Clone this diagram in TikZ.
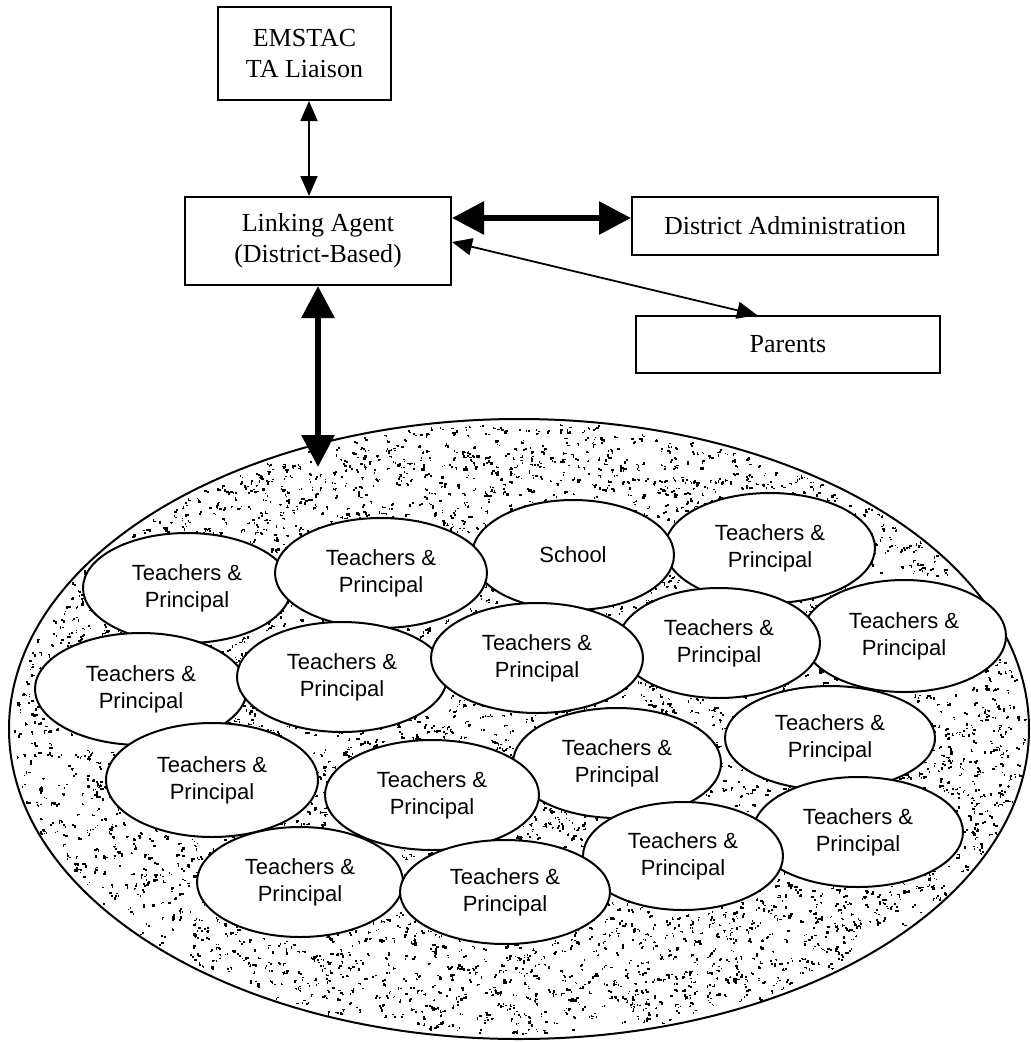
\documentclass[tikz,border=0pt]{standalone}
\usepackage{fontspec}
\setmainfont{Liberation Serif}
\newfontfamily\sansf{Liberation Sans}
\usetikzlibrary{shapes.geometric,arrows.meta}

\tikzset{
  box/.style={draw, line width=2pt, rectangle, inner sep=0pt, align=center,
    font=\fontsize{26}{31}\selectfont},
  tp/.style={draw, fill=white, ellipse, line width=2pt, inner sep=0pt, align=center,
    font=\sansf\fontsize{22}{27}\selectfont},
  thinlink/.style={line width=1.8pt,
    {Triangle[length=20pt,width=17pt]}-{Triangle[length=20pt,width=17pt]}},
  thicklink/.style={line width=6pt,
    {Triangle[length=32pt,width=32pt]}-{Triangle[length=32pt,width=32pt]}},
}

\begin{document}
\begin{tikzpicture}[x=1pt, y=-1pt]
\useasboundingbox (0,0) rectangle (1031,1042);

% top boxes
\node[box, minimum width=173pt, minimum height=93pt] (emstac) at (304.5,53.5) {EMSTAC\\TA Liaison};
\node[box, minimum width=266pt, minimum height=88pt] (link) at (318,241) {Linking Agent\\(District-Based)};
\node[box, minimum width=306pt, minimum height=58pt] (admin) at (785,226) {District Administration};
\node[box, minimum width=304pt, minimum height=57pt] (parents) at (788,344.5) {Parents};

% district: stippled ellipse holding the schools
\node[ellipse, minimum width=1020pt, minimum height=620pt, inner sep=0pt] (district) at (519,729) {};
\begin{scope}
  \pgfmathsetseed{2718}
  \foreach \i in {1,...,6000}{
    \pgfmathsetmacro\rr{sqrt(rnd)}
    \pgfmathsetmacro\aa{360*rnd}
    \pgfmathsetmacro\px{519+506*\rr*cos(\aa)}
    \pgfmathsetmacro\py{729+306*\rr*sin(\aa)}
    \pgfmathsetmacro\ww{1.0+1.8*rnd}
    \pgfmathsetmacro\hh{1.0+1.6*rnd}
    \pgfmathsetmacro\dx{5*rnd-2.5}
    \pgfmathsetmacro\dy{5*rnd-2.5}
    \fill (\px,\py) rectangle ++(\ww,\hh);
    \fill (\px+\dx,\py+\dy) rectangle ++(\hh,\ww);
  }
\end{scope}
\draw[line width=2pt] (519,729) ellipse [x radius=510, y radius=310];

% schools
\node[tp, minimum width=208pt, minimum height=110pt] (s1)  at (187,588) {Teachers \&\\Principal};
\node[tp, minimum width=210pt, minimum height=110pt] (s4)  at (770,548) {Teachers \&\\Principal};
\node[tp, minimum width=204pt, minimum height=112pt] (s5)  at (904,636) {Teachers \&\\Principal};
\node[tp, minimum width=202pt, minimum height=110pt] (s3)  at (573,555) {School};
\node[tp, minimum width=212pt, minimum height=110pt] (s2)  at (381,573) {Teachers \&\\Principal};
\node[tp, minimum width=212pt, minimum height=112pt] (s9)  at (141,689) {Teachers \&\\Principal};
\node[tp, minimum width=202pt, minimum height=110pt] (s6)  at (719,643) {Teachers \&\\Principal};
\node[tp, minimum width=210pt, minimum height=110pt] (s8)  at (342,677) {Teachers \&\\Principal};
\node[tp, minimum width=212pt, minimum height=110pt] (s7)  at (537,658) {Teachers \&\\Principal};
\node[tp, minimum width=210pt, minimum height=104pt] (s13) at (830,738) {Teachers \&\\Principal};
\node[tp, minimum width=210pt, minimum height=110pt] (s17) at (858,832) {Teachers \&\\Principal};
\node[tp, minimum width=208pt, minimum height=110pt] (s12) at (617,763) {Teachers \&\\Principal};
\node[tp, minimum width=200pt, minimum height=108pt] (s16) at (683,856) {Teachers \&\\Principal};
\node[tp, minimum width=212pt, minimum height=114pt] (s10) at (212,780) {Teachers \&\\Principal};
\node[tp, minimum width=214pt, minimum height=110pt] (s11) at (432,795) {Teachers \&\\Principal};
\node[tp, minimum width=206pt, minimum height=110pt] (s14) at (300,882) {Teachers \&\\Principal};
\node[tp, minimum width=210pt, minimum height=104pt] (s15) at (505,892) {Teachers \&\\Principal};

% connectors
\coordinate (reach) at (318,467);
\draw[thinlink] ([xshift=4.5pt]emstac.south) -- ([xshift=-9pt]link.north);
\draw[thicklink] ([yshift=-22pt]link.north east) -- ([yshift=-22pt]admin.north west);
\draw[thinlink] ([yshift=-46pt]link.north east) -- ([xshift=122pt]parents.north west);
\draw[thicklink] (link.south) -- (reach);

\end{tikzpicture}
\end{document}
